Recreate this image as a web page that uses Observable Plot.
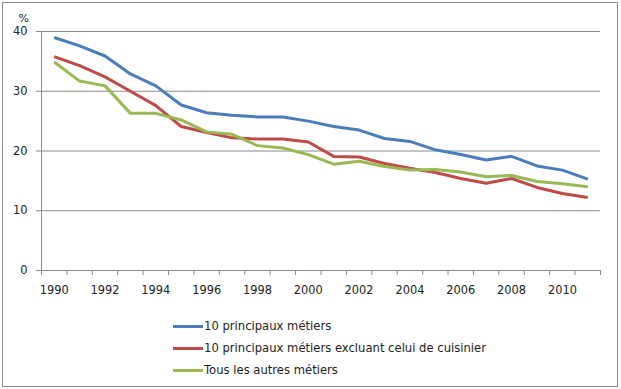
<!DOCTYPE html>
<html>
<head>
<meta charset="utf-8">
<script src="https://cdn.jsdelivr.net/npm/d3@7"></script>
<script src="https://cdn.jsdelivr.net/npm/@observablehq/plot@0.6"></script>
<style>
  html, body { margin: 0; padding: 0; background: #fff; }
  #wrap { position: relative; width: 621px; height: 389px; overflow: hidden; background: #fff; }
  #frame { position: absolute; left: 2px; top: 2px; width: 614px; height: 383px; border: 1px solid #8c8c8c; box-sizing: content-box; pointer-events: none; }
  #chart { position: absolute; left: 0; top: 0; }
  #legend { position: absolute; left: 173px; top: 315px; font-family: "DejaVu Sans", sans-serif; font-size: 11.6px; color: #222; }
  .row { position: absolute; left: 0; height: 22px; white-space: nowrap; display: flex; align-items: center; }
  .sw { display: inline-block; width: 30px; height: 3px; margin-right: 1px; }
</style>
</head>
<body>
<div id="wrap">
  <div id="chart"></div>
  <div id="legend"></div>
  <div id="frame"></div>
</div>
<script>
const years = [1990,1991,1992,1993,1994,1995,1996,1997,1998,1999,2000,2001,2002,2003,2004,2005,2006,2007,2008,2009,2010,2011];
const seriesNames = [
  "10 principaux métiers",
  "10 principaux métiers excluant celui de cuisinier",
  "Tous les autres métiers"
];
const seriesColors = ["#4a7ebb", "#be4b48", "#98b954"];
const top10 = [39.0,37.6,35.9,32.9,30.9,27.7,26.4,26.0,25.7,25.7,25.0,24.1,23.5,22.1,21.6,20.2,19.4,18.5,19.1,17.5,16.8,15.3];
const top10NoCook = [35.8,34.3,32.4,30.0,27.6,24.1,23.1,22.2,22.0,22.0,21.5,19.1,19.0,17.9,17.1,16.4,15.4,14.6,15.4,13.9,12.9,12.2];
const others = [34.9,31.7,30.9,26.3,26.3,25.2,23.2,22.8,20.9,20.5,19.4,17.8,18.3,17.4,16.8,16.9,16.5,15.7,15.9,14.9,14.5,14.0];
const yTicks = [0,10,20,30,40];
const xLabelYears = [1990,1992,1994,1996,1998,2000,2002,2004,2006,2008,2010];
const yUnit = "%";

const allSeries = [top10, top10NoCook, others];
const data = [];
allSeries.forEach((vals, s) => vals.forEach((v, i) => data.push({year: years[i], value: v, series: seriesNames[s]})));
const boundaries = d3.range(years.length + 1).map(i => years[0] - 0.5 + i);

const plot = Plot.plot({
  width: 621,
  height: 300,
  marginLeft: 41,
  marginRight: 21,
  marginTop: 31,
  marginBottom: 30,
  style: {fontFamily: "DejaVu Sans, sans-serif", fontSize: "11.4px", color: "#222", background: "transparent"},
  x: {type: "linear", domain: [years[0] - 0.5, years[years.length - 1] + 0.5]},
  y: {domain: [0, 40]},
  color: {domain: seriesNames, range: seriesColors},
  marks: [
    Plot.gridY(yTicks.filter(d => d > 0), {stroke: "#8a8a8a", strokeOpacity: 1, strokeWidth: 1}),
    Plot.ruleY([0], {stroke: "#8a8a8a", strokeWidth: 1}),
    Plot.ruleX([years[0] - 0.5], {stroke: "#8a8a8a", strokeWidth: 1}),
    Plot.axisY(yTicks, {tickSize: 5, tickPadding: 9, stroke: "#8a8a8a", label: null, fill: "#222"}),
    Plot.axisX(boundaries, {tickSize: 5, text: null, stroke: "#8a8a8a", label: null}),
    Plot.axisX(xLabelYears, {tickSize: 0, tickPadding: 15, tickFormat: d => String(d), label: null, fill: "#222"}),
    Plot.line(data, {x: "year", y: "value", z: "series", stroke: "series", strokeWidth: 3, strokeLinejoin: "round", strokeLinecap: "butt"}),
    Plot.text([yUnit], {frameAnchor: "top-left", dx: -23, dy: -17, fill: "#222", fontSize: 11})
  ]
});
document.getElementById("chart").appendChild(plot);

const legend = document.getElementById("legend");
seriesNames.forEach((name, i) => {
  const row = document.createElement("div");
  row.className = "row";
  row.style.top = (i * 22) + "px";
  const sw = document.createElement("span");
  sw.className = "sw";
  sw.style.background = seriesColors[i];
  row.appendChild(sw);
  row.appendChild(document.createTextNode(name));
  legend.appendChild(row);
});
</script>
</body>
</html>
